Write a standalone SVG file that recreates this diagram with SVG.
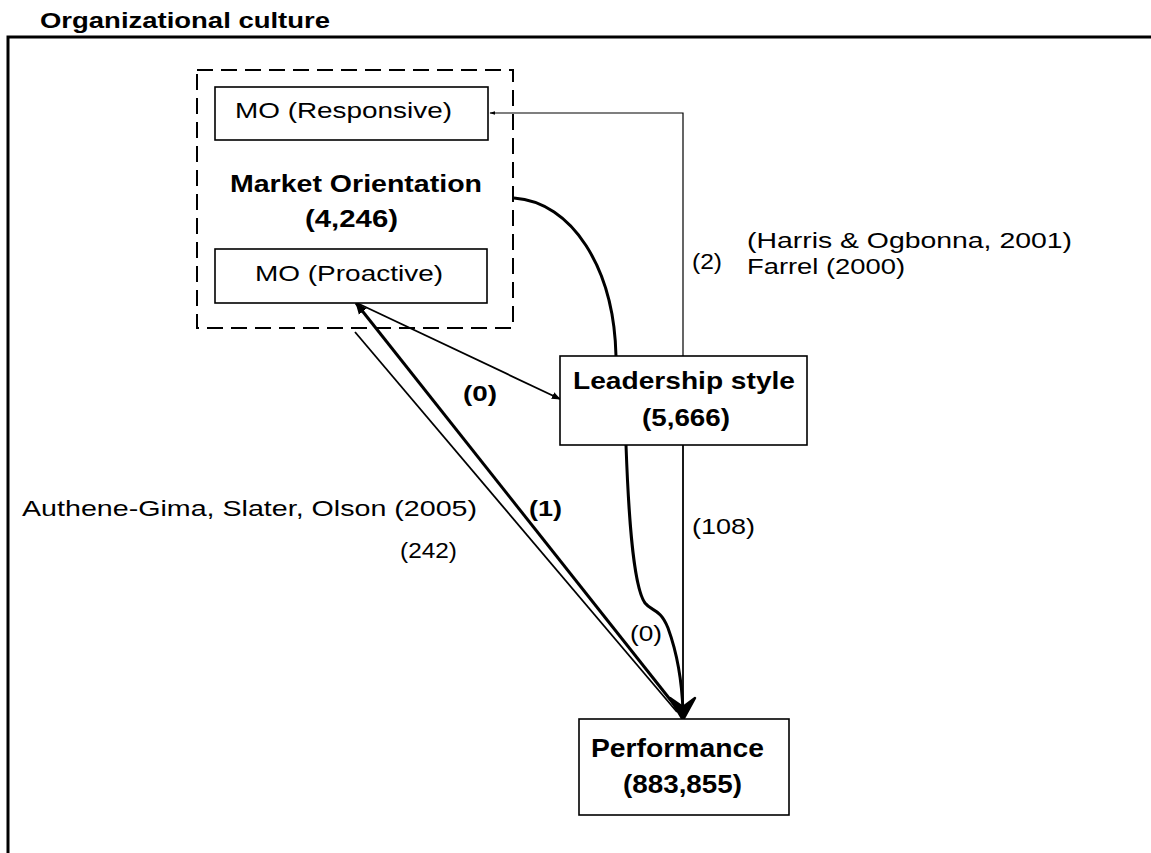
<svg xmlns="http://www.w3.org/2000/svg" width="1151" height="853" viewBox="0 0 1151 853">
  <style>
    .t { font-family: "Liberation Sans", Arial, sans-serif; fill: #000; }
    .b { font-weight: bold; }
    .n { font-size: 22.5px; }
    .lg { font-size: 24px; }
    .xl { font-size: 25.5px; }
    .box { fill: #fff; stroke: #000; stroke-width: 1.6; }
    .thin { fill: none; stroke: #000; stroke-width: 1.2; }
    .mid { fill: none; stroke: #000; stroke-width: 1.8; }
    .thick { fill: none; stroke: #000; stroke-width: 3; }
  </style>
  <defs>
    <marker id="small" viewBox="0 0 10 10" refX="9" refY="5" markerWidth="9" markerHeight="9" markerUnits="userSpaceOnUse" orient="auto">
      <path d="M0,1 L10,5 L0,9 Z" fill="#000"/>
    </marker>
    <marker id="dot" viewBox="0 0 10 10" refX="9" refY="5" markerWidth="6" markerHeight="6" markerUnits="userSpaceOnUse" orient="auto">
      <path d="M0,2 L10,5 L0,8 Z" fill="#000"/>
    </marker>
    <marker id="head" viewBox="0 0 12 12" refX="11" refY="6" markerWidth="12" markerHeight="12" markerUnits="userSpaceOnUse" orient="auto">
      <path d="M0,1 L12,6 L0,11 Z" fill="#000"/>
    </marker>
  </defs>
  <rect width="1151" height="853" fill="#fff"/>

  <!-- frame of the organizational culture area -->
  <g id="frame">
    <text class="t b" x="40" y="28" font-size="22" textLength="290" lengthAdjust="spacingAndGlyphs">Organizational culture</text>
    <path d="M8,853 V37 H1151" fill="none" stroke="#000" stroke-width="3"/>
  </g>

  <!-- connectors -->
  <g id="connectors">
    <!-- Leadership style -> MO (Responsive) -->
    <path class="thin" d="M683,356 V113 H490" marker-end="url(#dot)"/>
    <!-- Market Orientation curve into Leadership style -->
    <path class="thick" d="M514,198 C572,202 614,268 616,356"/>
    <!-- MO (Proactive) -> Leadership style -->
    <path class="mid" d="M357,303 L560,399" marker-end="url(#small)"/>
    <!-- Performance -> MO (Proactive) -->
    <path class="thick" d="M680,712 L356,303" marker-end="url(#head)"/>
    <!-- Market Orientation -> Performance -->
    <path class="mid" d="M355,332 L677,712"/>
    <!-- Leadership style -> Performance (straight) -->
    <path class="mid" d="M683,445 V712"/>
    <!-- Leadership style -> Performance (curved) -->
    <path class="thick" d="M626,445 C628,500 632,585 645,603 C652,612 660,608 668,628 C676,650 682,680 683,712"/>
    <!-- arrowhead into Performance -->
    <path d="M670,698 L683,720 L695,698 L683,707 Z" fill="#000" stroke="#000" stroke-width="2.5" stroke-linejoin="round"/>
  </g>

  <!-- Market Orientation group -->
  <g id="market-orientation">
    <rect x="197" y="70" width="316" height="258" fill="none" stroke="#000" stroke-width="2" stroke-dasharray="16 8"/>
    <text class="t b lg" x="230" y="192" textLength="252" lengthAdjust="spacingAndGlyphs">Market Orientation</text>
    <text class="t b lg" x="305" y="227" textLength="93" lengthAdjust="spacingAndGlyphs">(4,246)</text>
  </g>

  <g id="mo-responsive">
    <rect class="box" x="215" y="87" width="273" height="53"/>
    <text class="t n" x="235" y="118" textLength="217" lengthAdjust="spacingAndGlyphs">MO (Responsive)</text>
  </g>

  <g id="mo-proactive">
    <rect class="box" x="215" y="249" width="272" height="54"/>
    <text class="t n" x="255" y="281" textLength="188" lengthAdjust="spacingAndGlyphs">MO (Proactive)</text>
  </g>

  <g id="leadership-style">
    <rect class="box" x="560" y="356" width="247" height="89"/>
    <text class="t b lg" x="573" y="389" textLength="222" lengthAdjust="spacingAndGlyphs">Leadership style</text>
    <text class="t b lg" x="642" y="426" textLength="88" lengthAdjust="spacingAndGlyphs">(5,666)</text>
  </g>

  <g id="performance">
    <rect class="box" x="579" y="719" width="210" height="96"/>
    <text class="t b xl" x="591" y="757" textLength="173" lengthAdjust="spacingAndGlyphs">Performance</text>
    <text class="t b xl" x="623" y="793" textLength="119" lengthAdjust="spacingAndGlyphs">(883,855)</text>
  </g>

  <!-- connector labels and references -->
  <g id="labels">
    <text class="t n" x="692" y="269" textLength="30" lengthAdjust="spacingAndGlyphs">(2)</text>
    <text class="t n" x="747" y="248" textLength="325" lengthAdjust="spacingAndGlyphs">(Harris &amp; Ogbonna, 2001)</text>
    <text class="t n" x="747" y="274" textLength="158" lengthAdjust="spacingAndGlyphs">Farrel (2000)</text>
    <text class="t b n" x="463" y="401" textLength="34" lengthAdjust="spacingAndGlyphs">(0)</text>
    <text class="t n" x="22" y="516" textLength="455" lengthAdjust="spacingAndGlyphs">Authene-Gima, Slater, Olson (2005)</text>
    <text class="t b n" x="529" y="516" textLength="33" lengthAdjust="spacingAndGlyphs">(1)</text>
    <text class="t n" x="400" y="558" textLength="57" lengthAdjust="spacingAndGlyphs">(242)</text>
    <text class="t n" x="692" y="534" textLength="63" lengthAdjust="spacingAndGlyphs">(108)</text>
    <text class="t n" x="630" y="641" textLength="32" lengthAdjust="spacingAndGlyphs">(0)</text>
  </g>
</svg>
